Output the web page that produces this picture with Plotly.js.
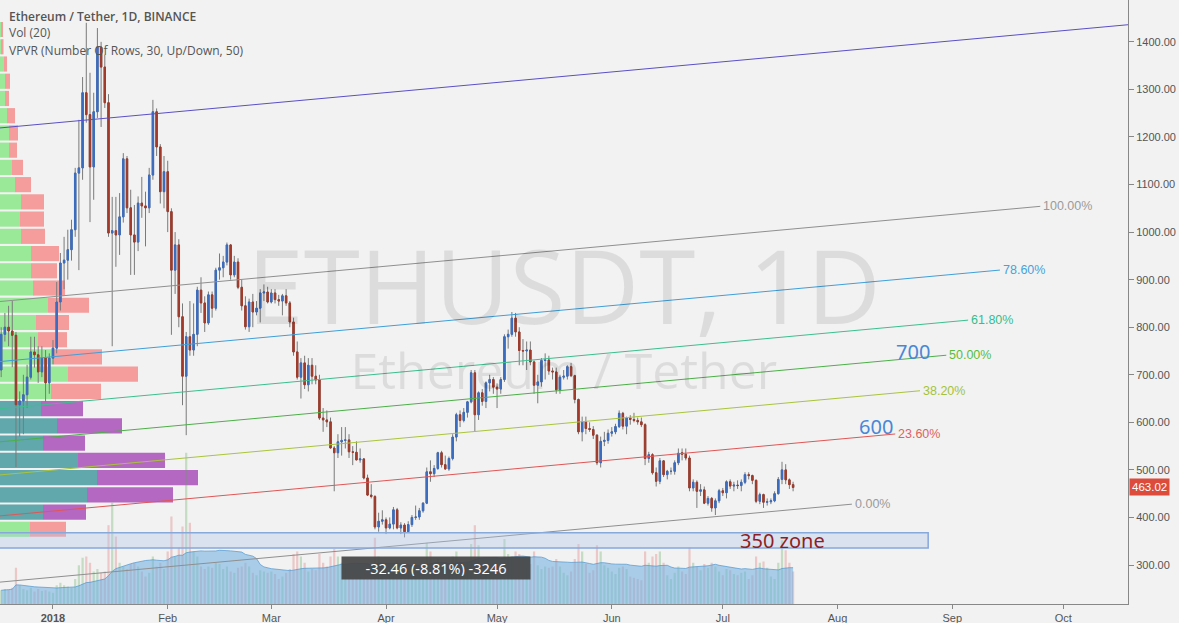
<!DOCTYPE html>
<html><head><meta charset="utf-8">
<script src="https://cdn.plot.ly/plotly-3.0.1.min.js"></script>
<style>html,body{margin:0;padding:0;background:#f2f2f2;}#chart{width:1179px;height:623px;}</style>
</head><body><div id="chart"></div>
<script>
// ---------- DATA ----------
const firstDay = '2017-12-18';
const openPrices = [
710,785,800,792,783,637,645,658,695,748,742,706,735,683,
735,756,853,935,941,963,1005,1124,1135,1293,1247,1137,1253,1389,1347,1272,998,1003,994,1032,1154,1051,994,979,1061,1055,1051,1120,1253,1179,1085,
1127,1043,920,973,822,697,780,752,785,878,851,809,868,840,920,925,937,973,910,937,884,845,801,853,832,840,872,874,
853,872,858,855,866,851,811,748,695,725,679,720,697,689,609,605,601,546,536,559,562,563,538,537,521,523,483,447,444,380,392,
395,378,386,416,378,384,370,385,400,401,414,430,496,492,503,536,511,502,524,569,616,604,621,643,704,616,662,644,683,690,
674,670,690,780,785,819,790,751,750,752,727,678,685,730,731,708,706,668,695,697,717,698,648,580,601,587,585,573,515,560,562,
577,580,591,619,592,609,606,604,601,595,524,532,494,476,519,490,497,497,515,536,533,525,462,474,455,458,430,440,420,435,
456,452,475,466,468,467,474,490,488,478,434,448,432,433,435,450,480,500,479,469];
const highPrices = [
800,830,845,855,790,665,700,721,780,780,760,760,752,745,
773,895,956,990,1005,1026,1135,1236,1326,1440,1335,1293,1429,1400,1373,1290,1074,1074,1082,1166,1160,1089,1057,1075,1116,1085,1135,1278,1260,1185,1160,
1150,1050,1000,985,850,790,855,850,885,905,865,875,875,925,955,950,978,975,950,945,900,865,860,870,855,880,890,885,
880,880,868,870,880,855,820,770,735,740,735,735,720,700,630,625,610,550,575,590,590,575,550,560,545,525,490,470,447,410,415,
400,400,422,420,390,388,392,405,425,420,432,505,520,510,538,540,530,528,575,620,625,630,645,710,710,665,670,686,700,695,
682,695,785,795,832,830,800,775,770,770,730,700,735,745,740,715,715,700,710,720,725,700,650,612,612,600,592,575,570,580,585,
590,597,625,622,612,615,620,610,610,598,538,535,505,525,520,500,505,520,545,545,545,530,480,478,470,465,445,443,440,460,
462,478,480,475,478,480,495,495,490,480,452,450,440,440,455,485,517,512,482,475];
const lowPrices = [
695,770,760,716,506,570,575,630,690,715,683,695,643,660,
722,745,835,880,900,940,990,920,1110,1230,1021,1068,1240,1221,1261,990,760,927,952,1020,1040,910,910,960,1030,970,1040,1110,1160,1060,1050,
1000,784,870,800,636,573,740,740,760,830,790,805,820,835,900,905,930,900,905,880,835,795,790,800,825,810,855,850,
850,850,845,825,845,800,740,690,650,670,665,680,680,605,580,590,545,455,525,530,545,525,510,520,515,480,445,440,375,370,385,
365,375,375,375,365,358,368,380,395,395,410,428,475,485,500,505,500,498,520,560,590,600,610,640,580,605,635,630,665,660,
630,660,685,755,780,780,720,720,710,720,660,640,675,690,700,690,660,660,690,690,695,640,575,560,575,580,565,510,505,550,555,
570,575,588,585,575,595,600,595,590,510,515,490,465,470,485,480,490,490,510,520,520,455,455,420,445,428,425,412,405,430,
445,440,460,455,460,455,470,480,470,430,428,420,425,428,432,448,470,470,460,455];
const closePrices = [
785,800,792,783,637,645,658,695,748,742,706,735,683,735,
756,853,935,941,963,1005,1124,1135,1293,1247,1137,1253,1389,1347,1272,998,1003,994,1032,1154,1051,994,979,1061,1055,1051,1120,1253,1179,1085,1127,
1043,920,973,822,697,780,752,785,878,851,809,868,840,920,925,937,973,910,937,884,845,801,853,832,840,872,874,853,
872,858,855,866,851,811,748,695,725,679,720,697,689,609,605,601,546,536,559,562,563,538,537,521,523,483,447,444,380,392,395,
378,386,416,378,384,370,385,400,401,414,430,496,492,503,536,511,502,524,569,616,604,621,643,704,616,662,644,683,690,674,
670,690,780,785,819,790,751,750,752,727,678,685,730,731,708,706,668,695,697,717,698,648,580,601,587,585,573,515,560,562,577,
580,591,619,592,609,606,604,601,595,524,532,494,476,519,490,497,497,515,535,533,525,462,474,455,458,430,440,420,435,456,
452,475,466,468,467,474,490,488,478,434,448,432,433,435,450,480,500,479,469,463];
// daily volume, thousand ETH
const volumes = [
110,120,115,130,290,150,120,110,130,100,120,105,110,100,
90,150,170,150,140,130,200,310,370,380,330,260,280,250,260,630,810,540,330,300,280,320,330,300,260,220,250,380,300,330,280,
420,700,380,450,620,1210,650,420,380,300,280,300,290,330,320,280,300,260,250,290,300,330,300,250,230,270,260,250,
260,240,200,220,250,280,400,420,380,330,260,280,270,400,330,300,380,440,380,330,290,300,260,250,220,300,330,260,530,380,300,
300,280,330,350,290,320,270,260,280,270,300,490,420,320,360,330,280,310,380,420,350,320,330,480,630,470,360,320,280,300,
300,280,520,400,380,420,400,330,300,320,420,310,280,300,290,300,360,300,250,230,260,360,480,420,320,250,270,470,420,310,290,
260,240,290,300,280,220,210,200,190,420,330,380,400,420,330,230,200,250,300,260,240,450,330,300,270,320,290,330,300,260,
230,280,270,240,230,250,260,200,230,380,330,340,290,220,200,330,510,430,330,260];
const volMaLength = 20;

// Visible range profile (VPVR), 30 rows bottom -> top, thousand ETH
const vpLow = 357, vpHigh = 1444;
const vpUp   = [1500,2150,4350,4850,3900,2150,2850,2050,2550,3400,2650,1900,1800,2400,1650,1550,1550,1050,1000,1050,750,600,450,450,350,250,250,200,50,50];
const vpDown = [1800,2150,4300,5050,4350,2100,3250,2100,2500,3500,2450,1450,1650,2050,1600,1300,1400,1200,1200,1150,800,550,400,450,400,200,250,150,125,100];
const valueAreaRows = [1,2,3,4,5,6,7];

// Trend-based fib channel
const viewStart = '2017-12-17 16:20';
const viewEnd = '2018-10-18 12:00';
const channelBase0 = 264, channelBase100 = 854, channelSlopePerDay = 0.712;
const fibLevels = [0, 0.236, 0.382, 0.5, 0.618, 0.786, 1];
const fibLabels = ['0.00%','23.60%','38.20%','50.00%','61.80%','78.60%','100.00%'];
const fibLineColors = ['#8f8f8f','#e05656','#a9c43c','#4cb048','#3cbf8e','#3f9fd8','#8f8f8f'];
const fibTextColors = ['#9a9a9a','#e06060','#a3c23c','#58bd3a','#35bd8a','#45a3dc','#9a9a9a'];
const fibEndDates = ['2018-08-04 21:30','2018-08-16 14:30','2018-08-23 07:00','2018-08-30 09:30','2018-09-05 07:00','2018-09-13 21:30','2018-09-24 19:00'];
const trendStartPrice = 1219;

// Zone and notes
const zoneLow = 336, zoneHigh = 368, zoneEnd = '2018-08-25 12:00';
const noteTexts = ['350 zone','600','700'];
const noteDates = ['2018-07-17','2018-08-11 10:00','2018-08-21 10:00'];
const notePrices = [352, 592, 748];
const noteColors = ['#8e1f1f','#4a86d6','#4a86d6'];
const lastPrice = 463.02;
const measureText = '-32.46 (-8.81%) -3246';
const watermarkTitle = 'ETHUSDT, 1D';
const watermarkSubtitle = 'Ethereum / Tether';

const yTicks = [300,400,500,600,700,800,900,1000,1100,1200,1300,1400];
const monthTicks = ['2018-01-01','2018-02-01','2018-03-01','2018-04-01','2018-05-01','2018-06-01','2018-07-01','2018-08-01','2018-09-01','2018-10-01'];
const monthLabels = ['<b>2018</b>','Feb','Mar','Apr','May','Jun','Jul','Aug','Sep','Oct'];

// ---------- BUILD ----------
const DAY = 86400000;
function toMs(s){ return Date.parse(s.replace(' ','T') + (s.length > 10 ? ':00Z' : 'T00:00:00Z')); }
function dayList(start, n){ const out=[]; const t0=toMs(start); for(let i=0;i<n;i++){ out.push(new Date(t0+i*DAY).toISOString().slice(0,10)); } return out; }
function daysFromStart(s){ return (toMs(s)-toMs(viewStart))/DAY; }
const dates = dayList(firstDay, closePrices.length);

const traces = [];
// VPVR
const rowH = (vpHigh - vpLow) / vpUp.length;
const rowCenters = vpUp.map((_, k) => vpLow + (k + 0.5) * rowH);
const upColors = vpUp.map((_, k) => valueAreaRows.includes(k) ? 'rgba(70,155,160,0.85)' : 'rgba(130,230,130,0.8)');
const dnColors = vpUp.map((_, k) => valueAreaRows.includes(k) ? 'rgba(170,80,185,0.85)' : 'rgba(245,135,135,0.8)');
traces.push({type:'bar', orientation:'h', x:vpUp, y:rowCenters, base:0, width:rowH*0.88, marker:{color:upColors, line:{width:0}}, xaxis:'x', yaxis:'y', hoverinfo:'skip'});
traces.push({type:'bar', orientation:'h', x:vpDown, y:rowCenters, base:vpUp, width:rowH*0.88, marker:{color:dnColors, line:{width:0}}, xaxis:'x', yaxis:'y', hoverinfo:'skip'});

// Volume + MA
const volMa = volumes.map((_, i) => { const s = Math.max(0, i - volMaLength + 1); const w = volumes.slice(s, i + 1); return w.reduce((a, b) => a + b, 0) / w.length; });
traces.push({type:'scatter', mode:'lines', x:dates, y:volMa, fill:'tozeroy', line:{color:'rgba(80,150,205,0.7)', width:1}, fillcolor:'rgba(110,175,225,0.55)', xaxis:'x2', yaxis:'y2', hoverinfo:'skip'});
const volColors = closePrices.map((c, i) => c >= openPrices[i] ? 'rgba(90,170,90,0.3)' : 'rgba(220,90,90,0.28)');
traces.push({type:'bar', x:dates, y:volumes, width:0.6*DAY, marker:{color:volColors, line:{width:0}}, xaxis:'x2', yaxis:'y2', hoverinfo:'skip'});

// Fib channel lines
const spanEnd = daysFromStart(viewEnd);
fibLevels.forEach((lv, i) => {
  const p0 = channelBase0 + lv * (channelBase100 - channelBase0);
  const dEnd = daysFromStart(fibEndDates[i]);
  traces.push({type:'scatter', mode:'lines', x:[viewStart, fibEndDates[i]], y:[p0, p0 + channelSlopePerDay * dEnd], line:{color:fibLineColors[i], width:1}, xaxis:'x3', yaxis:'y', hoverinfo:'skip'});
});
traces.push({type:'scatter', mode:'lines', x:[viewStart, viewEnd], y:[trendStartPrice, trendStartPrice + channelSlopePerDay * spanEnd], line:{color:'#5a4fc6', width:1}, xaxis:'x3', yaxis:'y', hoverinfo:'skip'});

// Candles: wicks then bodies
traces.push({type:'candlestick', x:dates, open:openPrices, high:highPrices, low:lowPrices, close:closePrices,
  increasing:{line:{color:'#7a7a7a', width:1}, fillcolor:'#7a7a7a'}, decreasing:{line:{color:'#7a7a7a', width:1}, fillcolor:'#7a7a7a'},
  whiskerwidth:0, xaxis:'x3', yaxis:'y', hoverinfo:'skip'});
const bodyHigh = openPrices.map((o, i) => Math.max(o, closePrices[i]));
const bodyLow = openPrices.map((o, i) => Math.min(o, closePrices[i]));
traces.push({type:'candlestick', x:dates, open:openPrices, high:bodyHigh, low:bodyLow, close:closePrices,
  increasing:{line:{color:'#3a6cc0', width:1}, fillcolor:'#3d6fc4'}, decreasing:{line:{color:'#a03a2a', width:1}, fillcolor:'#a63c2b'},
  whiskerwidth:0, xaxis:'x3', yaxis:'y', hoverinfo:'skip'});

// Annotations
const ann = [];
fibLevels.forEach((lv, i) => {
  const p0 = channelBase0 + lv * (channelBase100 - channelBase0);
  ann.push({xref:'x2', yref:'y', x:fibEndDates[i], y:p0 + channelSlopePerDay * daysFromStart(fibEndDates[i]), text:fibLabels[i], showarrow:false, xanchor:'left', yanchor:'middle', xshift:1, font:{family:'Liberation Sans, Arial', size:12.5, color:fibTextColors[i]}});
});
noteTexts.forEach((t, i) => ann.push({xref:'x2', yref:'y', x:noteDates[i], y:notePrices[i], text:t, showarrow:false, xanchor:'center', yanchor:'middle', font:{family:'Noto Sans', size:20, color:noteColors[i]}}));
// watermark as one two-line text block
ann.push({xref:'paper', yref:'paper', x:0.5, y:0.487, text:'<span style="font-size:102px">' + watermarkTitle + '</span><br>' + watermarkSubtitle, showarrow:false, xanchor:'center', yanchor:'middle', align:'center', font:{family:'Open Sans', size:50, color:'rgba(0,0,0,0.09)'}});
ann.push({xref:'paper', yref:'paper', x:0.006, y:0.9735, text:'Ethereum / Tether, 1D, BINANCE', showarrow:false, xanchor:'left', yanchor:'middle', font:{family:'Open Sans', size:12, color:'#555', weight:600}});
ann.push({xref:'paper', yref:'paper', x:0.006, y:0.9454, text:'Vol (20)', showarrow:false, xanchor:'left', yanchor:'middle', font:{family:'Open Sans', size:12, color:'#555'}});
ann.push({xref:'paper', yref:'paper', x:0.006, y:0.9172, text:'VPVR (Number Of Rows, 30, Up/Down, 50)', showarrow:false, xanchor:'left', yanchor:'middle', font:{family:'Open Sans', size:12, color:'#555'}});
ann.push({xref:'paper', yref:'paper', x:0.3865, y:0.0596, text:measureText, showarrow:false, xanchor:'center', yanchor:'middle', width:182, height:16, align:'center', bgcolor:'rgba(68,68,68,0.92)', borderpad:3, font:{family:'Open Sans', size:14.5, color:'#ffffff'}});
ann.push({xref:'paper', yref:'y', x:1, y:lastPrice, text:lastPrice.toFixed(2), showarrow:false, xanchor:'left', yanchor:'middle', xshift:1, bgcolor:'#dc4b3b', borderpad:2, font:{family:'Liberation Sans, Arial', size:11.5, color:'#ffffff'}});

const layout = {
  width:1179, height:623, margin:{l:0, r:51, t:0, b:19},
  paper_bgcolor:'#f2f2f2', plot_bgcolor:'#f2f2f2',
  showlegend:false, barmode:'overlay', boxgap:0.45,
  xaxis:{range:[0, 56400], visible:false, fixedrange:true},
  xaxis2:{type:'date', overlaying:'x', anchor:'y', side:'bottom', range:[viewStart, viewEnd], tickmode:'array', tickvals:monthTicks, ticktext:monthLabels,
    showgrid:false, zeroline:false, showline:true, linecolor:'#888', linewidth:1, ticks:'outside', ticklen:4, tickcolor:'#888',
    tickfont:{family:'Liberation Sans, Arial', size:11, color:'#555'}},
  xaxis3:{type:'date', overlaying:'x', anchor:'y', range:[viewStart, viewEnd], visible:false, rangeslider:{visible:false}},
  yaxis:{side:'right', anchor:'x', range:[218, 1488], tickmode:'array', tickvals:yTicks, ticktext:yTicks.map(v => v.toFixed(2)),
    showgrid:false, zeroline:false, showline:true, linecolor:'#888', linewidth:1, ticks:'outside', ticklen:5, tickcolor:'#888',
    tickfont:{family:'Liberation Sans, Arial', size:11, color:'#555'}},
  yaxis2:{overlaying:'y', range:[0, 4832], visible:false},
  shapes:[{type:'rect', xref:'x2', yref:'y', x0:'2017-12-10', x1:zoneEnd, y0:zoneLow, y1:zoneHigh, fillcolor:'rgba(175,198,236,0.35)', line:{color:'#86a8db', width:1.5}, layer:'above'}],
  annotations:ann
};
Plotly.newPlot('chart', traces, layout, {staticPlot:true});
</script></body></html>
